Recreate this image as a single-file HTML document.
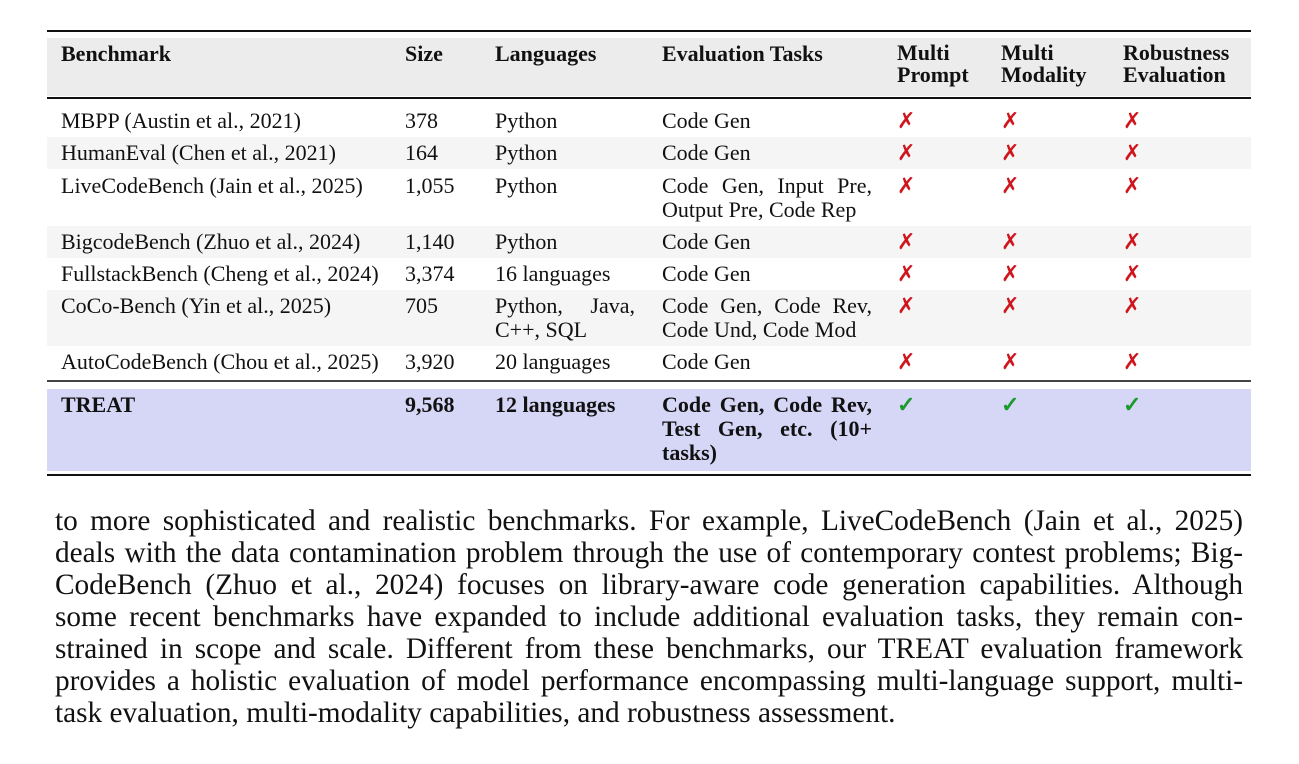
<!DOCTYPE html>
<html><head><meta charset="utf-8"><style>
body{margin:0;width:1299px;height:764px;background:#fff;font-family:"Liberation Serif","Times New Roman",serif;color:#111;position:relative;overflow:hidden}
.rule{position:absolute;left:47px;width:1204px;background:#111}
.row{position:absolute;left:47px;width:1204px}
.c{position:absolute;font-size:22px;line-height:24px;top:4px;white-space:nowrap}
.h .c{font-weight:bold}
.x{color:#d0141c}.v{color:#1a9a2a}
.j{text-align:justify;text-align-last:justify}
.p{position:absolute;left:55px;width:1188px;font-size:29.3px;line-height:32px;white-space:nowrap}
.pj{text-align:justify;text-align-last:justify;white-space:normal}
</style></head><body>
<div class="rule" style="top:30px;height:2px"></div>
<div class="row h" style="top:38px;height:58px;background:#ececec">
<div class="c" style="left:14px">Benchmark</div>
<div class="c" style="left:358px">Size</div>
<div class="c" style="left:448px">Languages</div>
<div class="c" style="left:615px">Evaluation Tasks</div>
<div class="c" style="left:850px;line-height:22px">Multi<br>Prompt</div>
<div class="c" style="left:954px;line-height:22px">Multi<br>Modality</div>
<div class="c" style="left:1076px;line-height:22px">Robustness<br>Evaluation</div>
</div>
<div class="rule" style="top:97px;height:2px"></div>
<div id="body"></div>
<div class="rule" style="top:380px;height:2px;background:#444"></div>
<div class="row h" style="top:389px;height:82px;background:#d6d6f7">
<div class="c" style="left:14px">TREAT</div>
<div class="c" style="left:358px">9,568</div>
<div class="c" style="left:448px">12 languages</div>
<div class="c" style="left:615px;width:210px;white-space:normal"><div class="j">Code Gen, Code Rev,</div><div class="j">Test Gen, etc. (10+</div><div>tasks)</div></div>
<div class="c v" style="left:850px">✓</div>
<div class="c v" style="left:954px">✓</div>
<div class="c v" style="left:1076px">✓</div>
</div>
<div class="rule" style="top:474px;height:2px"></div>
<div>
<div class="p pj" style="top:505px">to more sophisticated and realistic benchmarks. For example, LiveCodeBench (Jain et al., 2025)</div>
<div class="p pj" style="top:537px">deals with the data contamination problem through the use of contemporary contest problems; Big-</div>
<div class="p pj" style="top:569px">CodeBench (Zhuo et al., 2024) focuses on library-aware code generation capabilities. Although</div>
<div class="p pj" style="top:601px">some recent benchmarks have expanded to include additional evaluation tasks, they remain con-</div>
<div class="p pj" style="top:633px">strained in scope and scale. Different from these benchmarks, our TREAT evaluation framework</div>
<div class="p pj" style="top:665px">provides a holistic evaluation of model performance encompassing multi-language support, multi-</div>
<div class="p" style="top:697px">task evaluation, multi-modality capabilities, and robustness assessment.</div>
</div>
<script>
const names=["MBPP (Austin et al., 2021)","HumanEval (Chen et al., 2021)","LiveCodeBench (Jain et al., 2025)","BigcodeBench (Zhuo et al., 2024)","FullstackBench (Cheng et al., 2024)","CoCo-Bench (Yin et al., 2025)","AutoCodeBench (Chou et al., 2025)"];
const sizes=["378","164","1,055","1,140","3,374","705","3,920"];
const langs=[["Python"],["Python"],["Python"],["Python"],["16 languages"],["Python, Java,","C++, SQL"],["20 languages"]];
const tasks=[["Code Gen"],["Code Gen"],["Code Gen, Input Pre,","Output Pre, Code Rep"],["Code Gen"],["Code Gen"],["Code Gen, Code Rev,","Code Und, Code Mod"],["Code Gen"]];
const body=document.getElementById('body');
let y=105;
names.forEach((n,i)=>{
 const h=tasks[i].length>1||langs[i].length>1?56:32;
 const r=document.createElement('div');
 
 
 r.className='row';r.style.top=y+'px';r.style.height=h+'px';
 if(i%2==1)r.style.background='#f5f5f5';
 const cell=(l,html,cls,w)=>{const d=document.createElement('div');d.className='c '+(cls||'');d.style.left=l+'px';if(w){d.style.width=w+'px';d.style.whiteSpace='normal';}d.innerHTML=html;
  
  
  r.appendChild(d);};
 cell(14,n);cell(358,sizes[i]);
 const ml=(arr)=>arr.length>1?arr.map((t,k)=>'<div'+(k<arr.length-1?' class="j"':'')+'>'+t+'</div>').join(''):arr[0];
 cell(448,ml(langs[i]),'',140);
 cell(615,ml(tasks[i]),'',210);
 cell(850,'✗','x');cell(954,'✗','x');cell(1076,'✗','x');
 body.appendChild(r);
 y+=h+(i==1?1:0);
});
</script>
</body></html>
